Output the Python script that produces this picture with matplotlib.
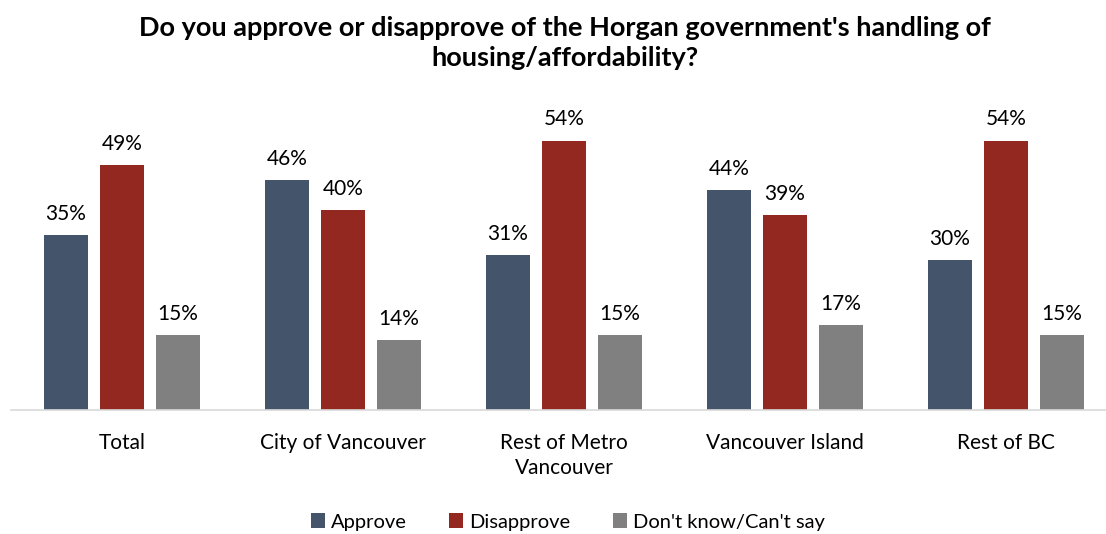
import matplotlib
matplotlib.use("Agg")
import matplotlib.pyplot as plt
import numpy as np
from matplotlib.patches import Patch

categories = ["Total", "City of Vancouver", "Rest of Metro\nVancouver", "Vancouver Island", "Rest of BC"]
series_names = ["Approve", "Disapprove", "Don't know/Can't say"]
approve = [35, 46, 31, 44, 30]
disapprove = [49, 40, 54, 39, 54]
dont_know = [15, 14, 15, 17, 15]
colors = ["#44546A", "#922820", "#808080"]

plt.rcParams['font.family'] = ['Lato', 'DejaVu Sans']

fig = plt.figure(figsize=(11.06, 5.34), dpi=100)
W, H = 1106, 534
ax = fig.add_axes([11 / W, (H - 409.5) / H, (W - 11) / W, (409.5 - 110.7) / H])

x = np.arange(len(categories))
bw = 44 / 221
step = 56 / 221
for i, (vals, c) in enumerate(zip([approve, disapprove, dont_know], colors)):
    xs = x + (i - 1) * step
    ax.bar(xs, vals, width=bw, color=c, zorder=2)
    for xi, v in zip(xs, vals):
        ax.annotate(f"{v}%", (xi, v), xytext=(0, 8), textcoords="offset points",
                    ha="center", va="bottom", fontsize=15, color="#000000")

ax.set_xlim(-0.502, 4.452)
ax.set_ylim(0, 60)
ax.set_yticks([])
ax.set_xticks(x)
ax.set_xticklabels(categories, fontsize=15, linespacing=1.3)
ax.tick_params(axis='x', length=0, pad=17)
for s in ["top", "right", "left"]:
    ax.spines[s].set_visible(False)
ax.spines["bottom"].set_color("#D9D9D9")
ax.spines["bottom"].set_linewidth(1.2)

fig.text(565 / W, 1 - 43 / H, "Do you approve or disapprove of the Horgan government's handling of\nhousing/affordability?",
         ha="center", va="center", fontsize=19.5, fontweight="bold", linespacing=1.3)

handles = [Patch(facecolor=c, edgecolor="none") for c in colors]
fig.legend(handles, series_names, loc="center", bbox_to_anchor=(568 / W, 1 - 522 / H), ncol=3,
           frameon=False, fontsize=14.5, handlelength=0.7, handleheight=0.7,
           handletextpad=0.3, columnspacing=2.1)

fig.savefig("out.png", dpi=100)
